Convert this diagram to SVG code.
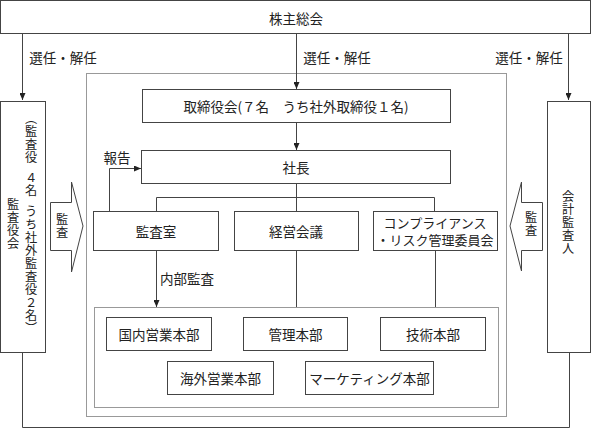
<svg xmlns="http://www.w3.org/2000/svg" width="592" height="429" viewBox="0 0 592 429">
<style>
.box{fill:#fff;stroke:#444;stroke-width:1}
.ln{fill:none;stroke:#444;stroke-width:1}
.dot{fill:none;stroke:#333;stroke-width:1;stroke-dasharray:1 1}
.t{font-family:"Noto Sans CJK JP","Liberation Serif",sans-serif;font-size:13.5px;fill:#222;text-anchor:middle;dominant-baseline:central}
.v{font-family:"Noto Sans CJK JP",sans-serif;font-size:12.2px;letter-spacing:0.8px;fill:#222;writing-mode:vertical-rl;text-orientation:upright}
</style>
<defs>
<marker id="ah" markerWidth="7" markerHeight="6" refX="7" refY="3" orient="auto" markerUnits="userSpaceOnUse">
<path d="M0,0 L7,3 L0,6 Z" fill="#222"/>
</marker>
</defs>
<rect x="0" y="0" width="592" height="429" fill="#fff"/>
<g id="frames">
<rect class="dot" x="86.5" y="73.5" width="420" height="343"/>
<rect class="dot" x="94.5" y="307.5" width="404" height="100"/>
</g>
<g id="connectors">
<path class="ln" d="M22.5,33 V100" marker-end="url(#ah)"/>
<path class="ln" d="M296.5,33 V89" marker-end="url(#ah)"/>
<path class="ln" d="M568.5,33 V100" marker-end="url(#ah)"/>
<path class="ln" d="M296.5,122 V150" marker-end="url(#ah)"/>
<path class="ln" d="M296.5,183 V211"/>
<path class="ln" d="M156.5,211 V197.5 H434.5 V211"/>
<path class="ln" d="M109.5,211 V168.5 H141" marker-end="url(#ah)"/>
<path class="ln" d="M156.5,250 V307" marker-end="url(#ah)"/>
<path class="ln" d="M296.5,250 V307"/>
<path class="ln" d="M435.5,250 V307"/>
<path class="ln" d="M22.5,352 V427.5 H569.5 V352"/>
<text class="t" x="63" y="57">選任・解任</text>
<text class="t" x="337" y="57">選任・解任</text>
<text class="t" x="529" y="57">選任・解任</text>
<text class="t" x="117" y="157">報告</text>
<text class="t" x="187" y="278">内部監査</text>
</g>
<g id="shareholders">
<rect class="box" x="0.5" y="0.5" width="590" height="33"/>
<text class="t" x="296" y="18">株主総会</text>
</g>
<g id="kansayakukai">
<rect class="box" x="0.5" y="101.5" width="45" height="251"/>
<text class="v" x="13" y="198">監査役会</text>
<text class="v" x="31" y="112"><tspan y="112">（監査役</tspan><tspan y="171.5">４名</tspan><tspan y="205.5">うち社外監査役２名）</tspan></text>
</g>
<g id="kaikei">
<rect class="box" x="547.5" y="101.5" width="43" height="251"/>
<text class="v" x="568" y="190.5">会計監査人</text>
</g>
<g id="audit-left">
<path class="box" d="M50.5,202.5 H71.5 V182 L83,226 L71.5,272 V250.5 H50.5 Z"/>
<text class="v" x="62" y="213.5">監査</text>
</g>
<g id="audit-right">
<path class="box" d="M542.5,202.5 H521.5 V182 L510,226 L521.5,271 V250.5 H542.5 Z"/>
<text class="v" x="531" y="211.5">監査</text>
</g>
<g id="board">
<rect class="box" x="142.5" y="89.5" width="308" height="33"/>
<text class="t" x="296" y="105.5">取締役会(７名　うち社外取締役１名)</text>
</g>
<g id="president">
<rect class="box" x="141.5" y="150.5" width="309" height="33"/>
<text class="t" x="296" y="167">社長</text>
</g>
<g id="kansashitsu">
<rect class="box" x="93.5" y="211.5" width="125" height="39"/>
<text class="t" x="156" y="231">監査室</text>
</g>
<g id="keiei">
<rect class="box" x="234.5" y="211.5" width="124" height="39"/>
<text class="t" x="296" y="231">経営会議</text>
</g>
<g id="compliance">
<rect class="box" x="373.5" y="211.5" width="124" height="39"/>
<text class="t" x="435" y="222" style="font-size:13px">コンプライアンス</text>
<text class="t" x="435" y="239.5" style="font-size:13px">・リスク管理委員会</text>
</g>
<g id="kokunai">
<rect class="box" x="106.5" y="317.5" width="105" height="33"/>
<text class="t" x="159" y="334">国内営業本部</text>
</g>
<g id="kanri">
<rect class="box" x="243.5" y="317.5" width="104" height="33"/>
<text class="t" x="295.5" y="334">管理本部</text>
</g>
<g id="gijutsu">
<rect class="box" x="380.5" y="317.5" width="105" height="33"/>
<text class="t" x="433" y="334">技術本部</text>
</g>
<g id="kaigai">
<rect class="box" x="167.5" y="361.5" width="106" height="33"/>
<text class="t" x="220.5" y="378">海外営業本部</text>
</g>
<g id="marketing">
<rect class="box" x="305.5" y="361.5" width="128" height="33"/>
<text class="t" x="369.5" y="378">マーケティング本部</text>
</g>
</svg>
